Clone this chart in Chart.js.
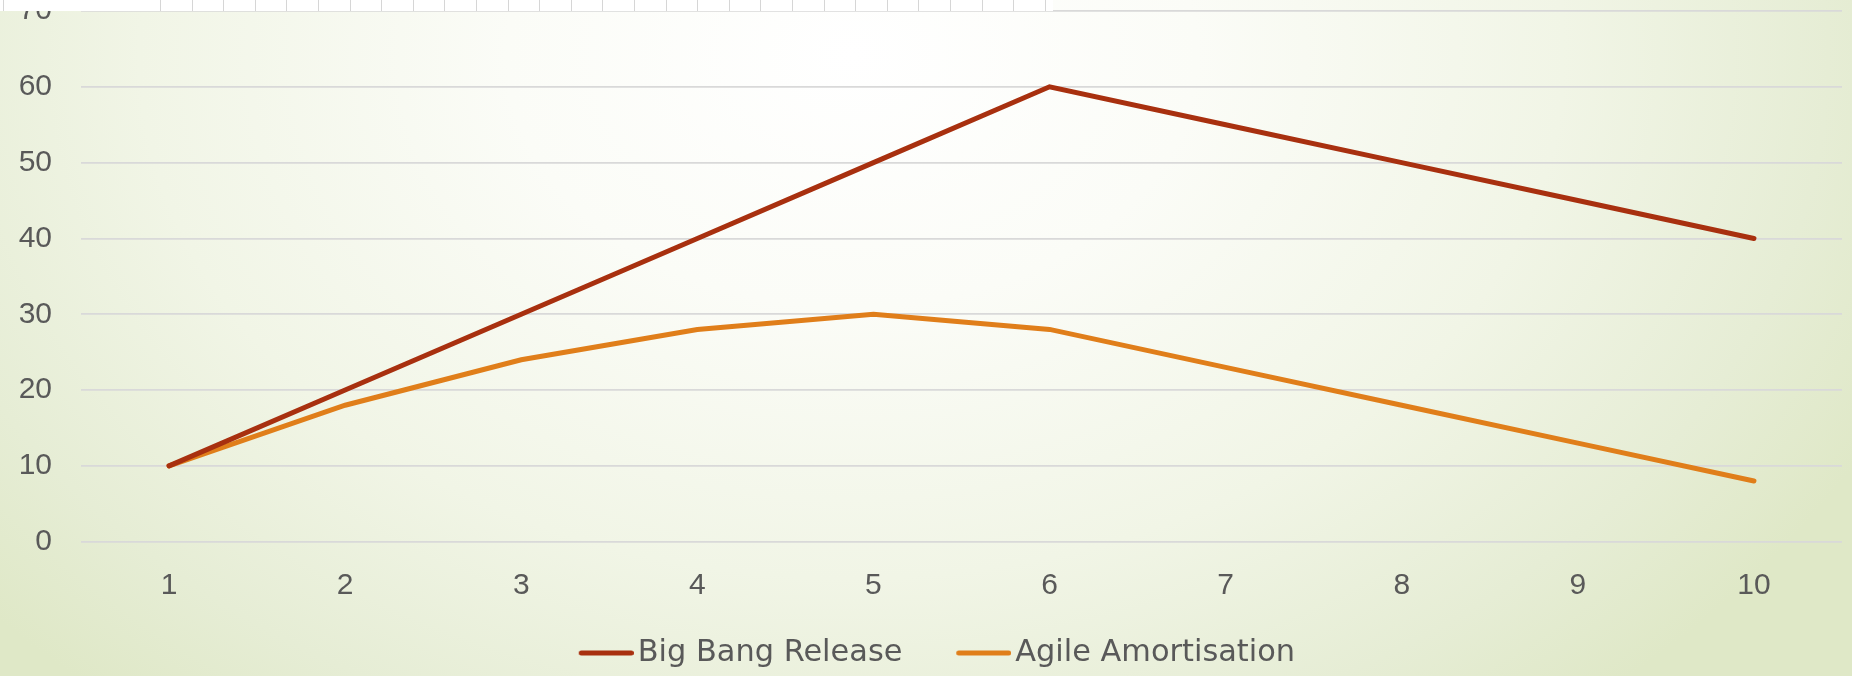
<!DOCTYPE html>
<html><head><meta charset="utf-8">
<script src="https://cdn.jsdelivr.net/npm/chart.js@4.4.1/dist/chart.umd.min.js"></script>
<style>
html,body{margin:0;padding:0;}
body{width:1852px;height:676px;overflow:hidden;
  background: radial-gradient(ellipse 62% 125% at 46% 8%, #ffffff 0%, #fbfcf7 30%, #f1f5e6 62%, #e6edd5 85%, #dfe8c7 100%);}
#wrap{position:relative;width:1852px;height:676px;overflow:hidden;}
#c{position:absolute;left:0;top:-36px;}
#strip{position:absolute;left:0;top:0;width:1053px;height:11px;background:#ffffff;}
#stripLines{position:absolute;left:160px;top:0;width:893px;height:11px;
  background-image:repeating-linear-gradient(90deg,#d6d6d6 0px,#d6d6d6 1px,transparent 1px,transparent 31.6px);}
#stripL{position:absolute;left:3px;top:0;width:1px;height:11px;background:#d6d6d6;}
</style>
</head>
<body>
<div id="wrap">
  <canvas id="c" width="1852" height="736"></canvas>
  <div id="strip"></div><div id="stripLines"></div><div id="stripL"></div>
</div>
<script>
const categories = ['1','2','3','4','5','6','7','8','9','10'];
const bigBangRelease = [10,20,30,40,50,60,55,50,45,40];
const agileAmortisation = [10,18,24,28,30,28,23,18,13,8];
const seriesNames = ['Big Bang Release','Agile Amortisation'];
const yTicks = [0,10,20,30,40,50,60,70];

const colBig = '#a8300f';
const colAgile = '#e07e1a';

function legendLine(color){
  const cv = document.createElement('canvas');
  cv.width = 98; cv.height = 10;
  const g = cv.getContext('2d');
  g.strokeStyle = color; g.lineWidth = 5; g.lineCap = 'round';
  g.beginPath(); g.moveTo(45.5,5); g.lineTo(95.5,5); g.stroke();
  return cv;
}

const tickColor = '#595959';
const fontFam = "'Liberation Sans', Arial, sans-serif";
const legendFam = "'DejaVu Sans', sans-serif";

new Chart(document.getElementById('c'), {
  type: 'line',
  data: {
    labels: categories,
    datasets: [
      {label: seriesNames[0], data: bigBangRelease, borderColor: colBig, backgroundColor: colBig,
       borderWidth: 5, borderCapStyle: 'round', borderJoinStyle: 'miter', tension: 0,
       pointRadius: 0, pointHoverRadius: 0, pointStyle: legendLine(colBig), fill: false},
      {label: seriesNames[1], data: agileAmortisation, borderColor: colAgile, backgroundColor: colAgile,
       borderWidth: 5, borderCapStyle: 'round', borderJoinStyle: 'miter', tension: 0,
       pointRadius: 0, pointHoverRadius: 0, pointStyle: legendLine(colAgile), fill: false}
    ]
  },
  options: {
    responsive: false,
    animation: false,
    devicePixelRatio: 1,
    layout: {padding: {top: 0, right: 10, left: 0, bottom: 21.8}},
    plugins: {
      tooltip: {enabled: false},
      legend: {
        position: 'bottom',
        labels: {
          usePointStyle: true,
          pointStyleWidth: 75.6,
          padding: 22,
          color: tickColor,
          font: {family: legendFam, size: 30.4}
        }
      }
    },
    scales: {
      x: {
        offset: true,
        grid: {display: false, drawTicks: false},
        border: {display: false},
        ticks: {color: tickColor, font: {family: fontFam, size: 30}, padding: 26, maxRotation: 0},
        afterFit: (a) => { a.height = 74.1; }
      },
      y: {
        min: 0, max: 70,
        afterBuildTicks: (a) => { a.ticks = yTicks.map(v => ({value: v})); },
        grid: {color: '#d9d9d9', lineWidth: 1.8, drawTicks: false},
        border: {display: false},
        ticks: {color: tickColor, font: {family: fontFam, size: 30}, padding: 29},
        afterFit: (a) => { a.width = 81; }
      }
    }
  }
});
</script>
</body></html>
